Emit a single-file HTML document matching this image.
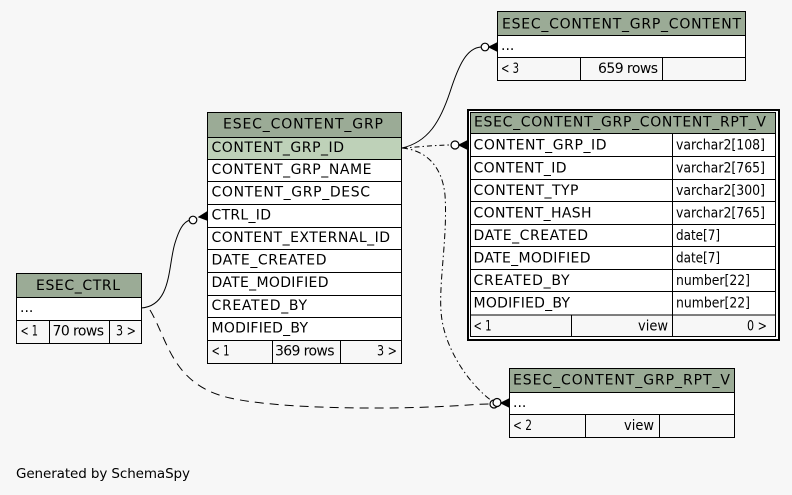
<!DOCTYPE html>
<html><head><meta charset="utf-8"><style>
html,body{margin:0;padding:0;background:#f7f7f7;}
svg{display:block;}
text{font-family:"DejaVu Sans","Liberation Sans",sans-serif;font-size:14px;fill:#000;}
</style></head><body>
<svg width="792" height="495" viewBox="0 0 792 495" xmlns="http://www.w3.org/2000/svg">
<rect x="0" y="0" width="792" height="495" fill="#f7f7f7"/>

<!-- connectors -->
<g fill="none" stroke="#000" stroke-width="1">
  <path d="M402,148 C428,142 440,122 450,92 C459,64 467,48 481,47"/>
  <path d="M402,148 C420,147 435,145 451,145" stroke-dasharray="5,3,1.5,3"/>
  <path d="M402,148 C425,150 442,165 445,195 C448,240 437,290 442,320 C447,352 470,385 492,401" stroke-dasharray="6,3,1.5,3"/>
  <path d="M141,308 C172,306 168,265 175,243 C179,230 183,222 190,220"/>
  <path d="M150,310 C168,340 172,385 230,398 C280,409 380,409 430,407 C460,406 475,404 490,404" stroke-dasharray="9,6"/>
</g>
<!-- endpoints: odot + crow -->
<g stroke="#000" stroke-width="1.2">
  <circle cx="485" cy="47" r="3.8" fill="#fff"/>
  <polygon points="489,47 497,43 497,51" fill="#000"/>
  <circle cx="455" cy="145" r="4" fill="#fff"/>
  <polygon points="459,145 467,141 467,149" fill="#000"/>
  <circle cx="494" cy="404" r="4" fill="#fff"/>
  <circle cx="497" cy="402.5" r="4" fill="#fff"/>
  <polygon points="501,403 509,399 509,407" fill="#000"/>
  <circle cx="193" cy="220" r="3.8" fill="#fff"/>
  <polygon points="199,217 207,212 207,220" fill="#000"/>
</g>

<!-- ESEC_CONTENT_GRP_CONTENT -->
<g stroke="#000" stroke-width="1">
  <rect x="497.5" y="11.5" width="248" height="24" fill="#9bab96"/>
  <rect x="497.5" y="35.5" width="248" height="22" fill="#ffffff"/>
  <rect x="497.5" y="57.5" width="248" height="23" fill="#f7f7f7"/>
  <line x1="580.5" y1="57.5" x2="580.5" y2="80.5"/>
  <line x1="662.5" y1="57.5" x2="662.5" y2="80.5"/>
</g>
<text x="502" y="28.5" textLength="239" lengthAdjust="spacing">ESEC_CONTENT_GRP_CONTENT</text>
<text x="501" y="50">...</text>
<text x="501" y="73" textLength="18" lengthAdjust="spacingAndGlyphs">&lt; 3</text>
<text x="598" y="73" textLength="60" lengthAdjust="spacing">659 rows</text>

<!-- ESEC_CONTENT_GRP -->
<g stroke="#000" stroke-width="1">
  <rect x="207.5" y="112.5" width="194" height="25" fill="#9bab96"/>
  <rect x="207.5" y="137.5" width="194" height="22" fill="#bed1b8"/>
  <rect x="207.5" y="159.5" width="194" height="181" fill="#ffffff"/>
  <rect x="207.5" y="340.5" width="194" height="23" fill="#f7f7f7"/>
  <line x1="207.5" y1="181.5" x2="401.5" y2="181.5"/>
  <line x1="207.5" y1="204.5" x2="401.5" y2="204.5"/>
  <line x1="207.5" y1="227.5" x2="401.5" y2="227.5"/>
  <line x1="207.5" y1="249.5" x2="401.5" y2="249.5"/>
  <line x1="207.5" y1="272.5" x2="401.5" y2="272.5"/>
  <line x1="207.5" y1="295.5" x2="401.5" y2="295.5"/>
  <line x1="207.5" y1="317.5" x2="401.5" y2="317.5"/>
  <line x1="272.5" y1="340.5" x2="272.5" y2="363.5"/>
  <line x1="340.5" y1="340.5" x2="340.5" y2="363.5"/>
</g>
<text x="223" y="128.5" textLength="160" lengthAdjust="spacing">ESEC_CONTENT_GRP</text>
<text x="211.5" y="152" textLength="132.5" lengthAdjust="spacing">CONTENT_GRP_ID</text>
<text x="211.5" y="174" textLength="160" lengthAdjust="spacing">CONTENT_GRP_NAME</text>
<text x="211.5" y="196.5" textLength="158.5" lengthAdjust="spacing">CONTENT_GRP_DESC</text>
<text x="211.5" y="219.5" textLength="59.5" lengthAdjust="spacing">CTRL_ID</text>
<text x="211.5" y="242" textLength="178.5" lengthAdjust="spacing">CONTENT_EXTERNAL_ID</text>
<text x="211.5" y="264.5" textLength="115" lengthAdjust="spacing">DATE_CREATED</text>
<text x="211.5" y="287" textLength="117" lengthAdjust="spacing">DATE_MODIFIED</text>
<text x="211.5" y="310" textLength="95.5" lengthAdjust="spacing">CREATED_BY</text>
<text x="211.5" y="332.5" textLength="96.5" lengthAdjust="spacing">MODIFIED_BY</text>
<text x="211.5" y="355.5" textLength="18" lengthAdjust="spacingAndGlyphs">&lt; 1</text>
<text x="275" y="355.5" textLength="59.5" lengthAdjust="spacing">369 rows</text>
<text x="377" y="355.5" textLength="20" lengthAdjust="spacingAndGlyphs">3 &gt;</text>

<!-- ESEC_CTRL -->
<g stroke="#000" stroke-width="1">
  <rect x="16.5" y="273.5" width="125" height="24" fill="#9bab96"/>
  <rect x="16.5" y="297.5" width="125" height="23" fill="#ffffff"/>
  <rect x="16.5" y="320.5" width="125" height="23" fill="#f7f7f7"/>
  <line x1="49.5" y1="320.5" x2="49.5" y2="343.5"/>
  <line x1="109.5" y1="320.5" x2="109.5" y2="343.5"/>
</g>
<text x="36" y="290" textLength="84" lengthAdjust="spacing">ESEC_CTRL</text>
<text x="20" y="312">...</text>
<text x="20.5" y="335.5" textLength="17.5" lengthAdjust="spacingAndGlyphs">&lt; 1</text>
<text x="52.5" y="335.5" textLength="51.5" lengthAdjust="spacing">70 rows</text>
<text x="116" y="335.5" textLength="20" lengthAdjust="spacingAndGlyphs">3 &gt;</text>

<!-- ESEC_CONTENT_GRP_CONTENT_RPT_V (focus) -->
<rect x="468" y="110" width="311" height="230" fill="#ffffff" stroke="#000" stroke-width="2"/>
<g stroke="#000" stroke-width="1">
  <rect x="470.5" y="112.5" width="305" height="21" fill="#9bab96"/>
  <rect x="470.5" y="133.5" width="305" height="181.5" fill="#ffffff"/>
  <rect x="470.5" y="315" width="305" height="21.5" fill="#f7f7f7"/>
  <line x1="470.5" y1="156.5" x2="775.5" y2="156.5"/>
  <line x1="470.5" y1="179.5" x2="775.5" y2="179.5"/>
  <line x1="470.5" y1="201.5" x2="775.5" y2="201.5"/>
  <line x1="470.5" y1="224.5" x2="775.5" y2="224.5"/>
  <line x1="470.5" y1="246.5" x2="775.5" y2="246.5"/>
  <line x1="470.5" y1="269.5" x2="775.5" y2="269.5"/>
  <line x1="470.5" y1="291.5" x2="775.5" y2="291.5"/>
  <line x1="672.5" y1="133.5" x2="672.5" y2="336.5"/>
  <line x1="571.5" y1="315" x2="571.5" y2="336.5"/>
</g>
<text x="474" y="126.5" textLength="292" lengthAdjust="spacing">ESEC_CONTENT_GRP_CONTENT_RPT_V</text>
<text x="473.5" y="149.5" textLength="133" lengthAdjust="spacing">CONTENT_GRP_ID</text>
<text x="473.5" y="172.5" textLength="93" lengthAdjust="spacing">CONTENT_ID</text>
<text x="473.5" y="195" textLength="105" lengthAdjust="spacing">CONTENT_TYP</text>
<text x="473.5" y="217.5" textLength="118" lengthAdjust="spacing">CONTENT_HASH</text>
<text x="473.5" y="240" textLength="114.5" lengthAdjust="spacing">DATE_CREATED</text>
<text x="473.5" y="262.5" textLength="117" lengthAdjust="spacing">DATE_MODIFIED</text>
<text x="473.5" y="285" textLength="96" lengthAdjust="spacing">CREATED_BY</text>
<text x="473.5" y="307.5" textLength="96.5" lengthAdjust="spacing">MODIFIED_BY</text>
<text x="676" y="149.5" textLength="89" lengthAdjust="spacingAndGlyphs">varchar2[108]</text>
<text x="676" y="172.5" textLength="89" lengthAdjust="spacingAndGlyphs">varchar2[765]</text>
<text x="676" y="195" textLength="89" lengthAdjust="spacingAndGlyphs">varchar2[300]</text>
<text x="676" y="217.5" textLength="89" lengthAdjust="spacingAndGlyphs">varchar2[765]</text>
<text x="676" y="240" textLength="44" lengthAdjust="spacingAndGlyphs">date[7]</text>
<text x="676" y="262.5" textLength="44" lengthAdjust="spacingAndGlyphs">date[7]</text>
<text x="676" y="285" textLength="74" lengthAdjust="spacingAndGlyphs">number[22]</text>
<text x="676" y="307.5" textLength="74" lengthAdjust="spacingAndGlyphs">number[22]</text>
<text x="473.5" y="330.5" textLength="18" lengthAdjust="spacingAndGlyphs">&lt; 1</text>
<text x="638" y="330.5" textLength="30" lengthAdjust="spacingAndGlyphs">view</text>
<text x="747" y="330.5" textLength="20" lengthAdjust="spacingAndGlyphs">0 &gt;</text>

<!-- ESEC_CONTENT_GRP_RPT_V -->
<g stroke="#000" stroke-width="1">
  <rect x="509.5" y="368.5" width="225" height="24" fill="#9bab96"/>
  <rect x="509.5" y="392.5" width="225" height="22" fill="#ffffff"/>
  <rect x="509.5" y="414.5" width="225" height="23" fill="#f7f7f7"/>
  <line x1="585.5" y1="414.5" x2="585.5" y2="437.5"/>
  <line x1="659.5" y1="414.5" x2="659.5" y2="437.5"/>
</g>
<text x="513" y="384.5" textLength="217" lengthAdjust="spacing">ESEC_CONTENT_GRP_RPT_V</text>
<text x="513" y="407">...</text>
<text x="513" y="430" textLength="19" lengthAdjust="spacingAndGlyphs">&lt; 2</text>
<text x="624" y="430" textLength="30" lengthAdjust="spacingAndGlyphs">view</text>

<text x="16" y="478" textLength="174" lengthAdjust="spacing" style="font-size:13.5px">Generated by SchemaSpy</text>
</svg>
</body></html>
